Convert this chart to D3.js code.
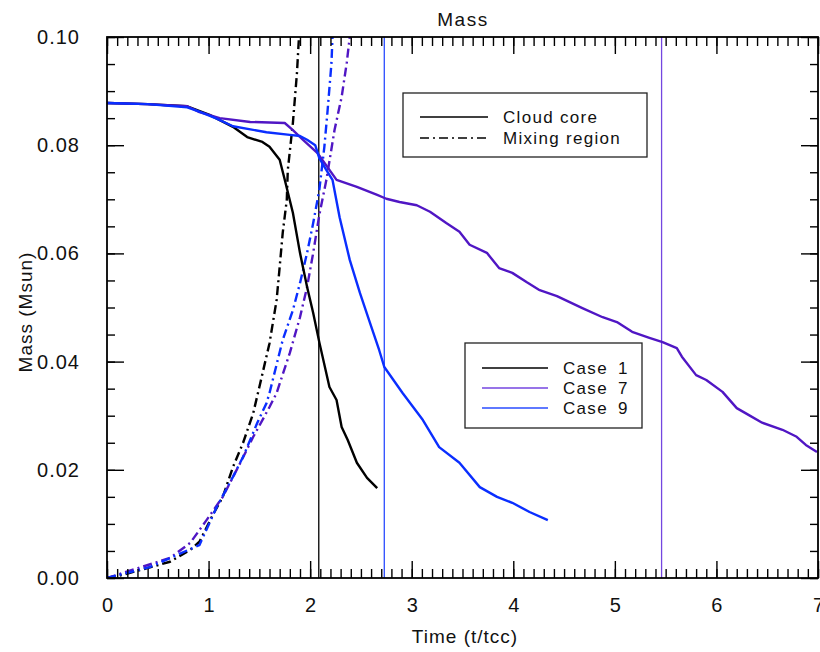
<!DOCTYPE html>
<html>
<head>
<meta charset="utf-8">
<script src="https://cdn.jsdelivr.net/npm/d3@7"></script>
<style>
body { margin: 0; background: #fff; }
text { font-family: "Liberation Sans", Arial, sans-serif; fill: #111; }
</style>
</head>
<body>
<div id="chart"></div>
<script>
/* Data: time (t/tcc) and mass (Msun) */
var case1Time = [0, 0.40, 0.79, 1.01, 1.24, 1.38, 1.53, 1.60, 1.70, 1.75, 1.83, 1.90, 1.97, 2.03, 2.09, 2.19, 2.26, 2.31, 2.37, 2.46, 2.56, 2.66];
var case1Core = [0.0878, 0.0876, 0.0872, 0.0856, 0.0834, 0.0815, 0.0806, 0.0797, 0.0773, 0.0736, 0.0675, 0.0601, 0.0538, 0.0490, 0.0436, 0.0353, 0.0329, 0.0279, 0.0255, 0.0213, 0.0185, 0.0166];

var case7Time = [0, 0.40, 0.79, 0.91, 1.11, 1.41, 1.75, 1.83, 1.93, 2.07, 2.26, 2.46, 2.66, 2.75, 2.88, 3.05, 3.18, 3.34, 3.47, 3.57, 3.74, 3.86, 3.99, 4.13, 4.26, 4.43, 4.68, 4.88, 5.02, 5.17, 5.34, 5.47, 5.61, 5.66, 5.80, 5.90, 6.06, 6.20, 6.32, 6.45, 6.65, 6.79, 6.88, 6.99];
var case7Core = [0.0878, 0.0876, 0.0872, 0.0861, 0.0850, 0.0843, 0.0841, 0.0828, 0.0810, 0.0786, 0.0736, 0.0723, 0.0708, 0.0701, 0.0695, 0.0689, 0.0677, 0.0656, 0.0640, 0.0616, 0.0601, 0.0573, 0.0564, 0.0547, 0.0532, 0.0521, 0.0499, 0.0482, 0.0473, 0.0455, 0.0444, 0.0436, 0.0425, 0.0409, 0.0375, 0.0366, 0.0344, 0.0314, 0.0301, 0.0287, 0.0274, 0.0261, 0.0246, 0.0233];

var case9Time = [0, 0.40, 0.79, 0.91, 1.08, 1.24, 1.57, 1.80, 1.90, 1.97, 2.05, 2.09, 2.16, 2.22, 2.29, 2.39, 2.49, 2.59, 2.68, 2.73, 2.91, 3.11, 3.27, 3.47, 3.67, 3.84, 3.99, 4.16, 4.34];
var case9Core = [0.0878, 0.0876, 0.0870, 0.0862, 0.0849, 0.0835, 0.0824, 0.0819, 0.0817, 0.0810, 0.0800, 0.0776, 0.0754, 0.0736, 0.0667, 0.0588, 0.0527, 0.0471, 0.0421, 0.0390, 0.0342, 0.0292, 0.0242, 0.0213, 0.0168, 0.0150, 0.0139, 0.0122, 0.0107];

var case1MixTime = [0, 0.16, 0.62, 0.82, 0.91, 1.04, 1.14, 1.24, 1.34, 1.44, 1.50, 1.60, 1.67, 1.70, 1.73, 1.77, 1.78, 1.83, 1.87, 1.89, 1.90];
var case1Mix = [0, 0.0006, 0.0030, 0.0052, 0.0067, 0.0116, 0.0150, 0.0205, 0.0250, 0.0305, 0.0353, 0.0434, 0.0514, 0.0575, 0.0638, 0.0699, 0.0754, 0.0841, 0.0933, 0.1000, 0.1030];

var case7MixTime = [0, 0.62, 0.82, 0.98, 1.14, 1.31, 1.44, 1.60, 1.67, 1.80, 1.90, 1.97, 2.03, 2.09, 2.16, 2.24, 2.31, 2.36, 2.39, 2.40];
var case7Mix = [0, 0.0037, 0.0065, 0.0107, 0.0150, 0.0212, 0.0261, 0.0316, 0.0342, 0.0416, 0.0482, 0.0538, 0.0601, 0.0671, 0.0736, 0.0828, 0.0889, 0.0952, 0.1000, 0.1030];

var case9MixTime = [0, 0.42, 0.91, 1.08, 1.24, 1.34, 1.48, 1.57, 1.60, 1.73, 1.83, 1.90, 1.97, 2.03, 2.09, 2.14, 2.17, 2.21, 2.22, 2.23];
var case9Mix = [0, 0.0020, 0.0061, 0.0131, 0.0187, 0.0224, 0.0287, 0.0323, 0.0342, 0.0440, 0.0495, 0.0545, 0.0601, 0.0656, 0.0717, 0.0797, 0.0860, 0.0952, 0.1000, 0.1030];

/* End-of-run markers: case 1, case 9, case 7 */
var markTime = [2.085, 2.73, 5.46];
var markCase = [0, 2, 1];

var caseNames = ["Case 1", "Case 7", "Case 9"];
var styleNames = ["Cloud core", "Mixing region"];
var xTicks = [0, 1, 2, 3, 4, 5, 6, 7];
var yTicks = [0, 0.02, 0.04, 0.06, 0.08, 0.10];

var curveColor = ["#000000", "#5016c4", "#0a2eff"];
var thinColor = ["#000000", "#7446e0", "#2a4cff"];

var width = 820;
var height = 652;
var pLeft = 107, pRight = 818, pTop = 37, pBottom = 578;

/* Scale */
var xScale = d3.scaleLinear().domain([0, 7]).range([pLeft, pRight]);
var yScale = d3.scaleLinear().domain([0, 0.10]).range([pBottom, pTop]);

var svg = d3.select("#chart").append("svg")
	.attr("width", width)
	.attr("height", height);

svg.append("defs").append("clipPath")
	.attr("id", "plot")
	.append("rect")
	.attr("x", pLeft).attr("y", pTop)
	.attr("width", pRight - pLeft).attr("height", pBottom - pTop);

function pairs(t, m) {
	return t.map((d, i) => ({t: d, m: m[i]}));
}

var cores = [pairs(case1Time, case1Core), pairs(case7Time, case7Core), pairs(case9Time, case9Core)];
var mixes = [pairs(case1MixTime, case1Mix), pairs(case7MixTime, case7Mix), pairs(case9MixTime, case9Mix)];

var line = d3.line()
	.x(d => xScale(d.t))
	.y(d => yScale(d.m));

var plot = svg.append("g").attr("clip-path", "url(#plot)");

/* vertical markers */
plot.selectAll(".mark")
	.data(markTime).enter()
	.append("line")
	.attr("x1", d => xScale(d)).attr("x2", d => xScale(d))
	.attr("y1", yScale(0)).attr("y2", yScale(0.10))
	.style("stroke", (d, i) => thinColor[markCase[i]])
	.style("stroke-width", 1.3);

plot.selectAll(".mix")
	.data(mixes).enter()
	.append("path")
	.attr("d", line)
	.style("fill", "none")
	.style("stroke", (d, i) => curveColor[i])
	.style("stroke-width", 2.4)
	.style("stroke-dasharray", "9,4,2,4");

plot.selectAll(".core")
	.data(cores).enter()
	.append("path")
	.attr("d", line)
	.style("fill", "none")
	.style("stroke", (d, i) => curveColor[i])
	.style("stroke-width", 2.4)
	.style("stroke-linejoin", "round");

/* Axes */
var xMinor = d3.range(0, 7.001, 0.1);
var yMinor = d3.range(0, 0.1001, 0.005);

function addAxis(axis, tx, ty, labels) {
	var g = svg.append("g")
		.attr("transform", `translate(${tx}, ${ty})`)
		.call(axis);
	g.select(".domain").remove();
	g.selectAll(".tick line").style("stroke", "#000").style("stroke-width", 1.4);
	if (!labels) g.selectAll(".tick text").remove();
	return g;
}

var fmtY = d3.format(".2f");

addAxis(d3.axisBottom(xScale).tickValues(xMinor).tickSize(-9).tickFormat(""), 0, pBottom, false);
addAxis(d3.axisTop(xScale).tickValues(xMinor).tickSize(-9).tickFormat(""), 0, pTop, false);
addAxis(d3.axisLeft(yScale).tickValues(yMinor).tickSize(-8).tickFormat(""), pLeft, 0, false);
addAxis(d3.axisRight(yScale).tickValues(yMinor).tickSize(-8).tickFormat(""), pRight, 0, false);

var gx = addAxis(d3.axisBottom(xScale).tickValues(xTicks).tickSize(-17).tickPadding(30).tickFormat(d3.format("d")), 0, pBottom, true);
addAxis(d3.axisTop(xScale).tickValues(xTicks).tickSize(-17).tickFormat(""), 0, pTop, false);
var gy = addAxis(d3.axisLeft(yScale).tickValues(yTicks).tickSize(-17).tickPadding(27).tickFormat(fmtY), pLeft, 0, true);
addAxis(d3.axisRight(yScale).tickValues(yTicks).tickSize(-17).tickFormat(""), pRight, 0, false);

gx.selectAll(".tick text").style("font-size", "20px").attr("dy", "0.2em");
gy.selectAll(".tick text").style("font-size", "20px").style("letter-spacing", "1px");

svg.append("rect")
	.attr("x", pLeft).attr("y", pTop)
	.attr("width", pRight - pLeft).attr("height", pBottom - pTop)
	.style("fill", "none").style("stroke", "#000").style("stroke-width", 1.8);

/* Titles */
svg.append("text")
	.attr("x", 463).attr("y", 26)
	.attr("text-anchor", "middle")
	.style("font-size", "19px").style("letter-spacing", "1.5px")
	.text("Mass");

svg.append("text")
	.attr("x", 465).attr("y", 643)
	.attr("text-anchor", "middle")
	.style("font-size", "19px").style("letter-spacing", "1px")
	.text("Time (t/tcc)");

svg.append("text")
	.attr("transform", "translate(32, 312) rotate(-90)")
	.attr("text-anchor", "middle")
	.style("font-size", "19px").style("letter-spacing", "1px")
	.text("Mass (Msun)");

/* Legend: line styles */
var leg1 = svg.append("g");
leg1.append("rect")
	.attr("x", 403).attr("y", 93).attr("width", 244).attr("height", 64)
	.style("fill", "#fff").style("stroke", "#222").style("stroke-width", 1.3);
leg1.selectAll(".ll")
	.data(styleNames).enter()
	.append("line")
	.attr("x1", 420).attr("x2", 488)
	.attr("y1", (d, i) => 117 + i * 21).attr("y2", (d, i) => 117 + i * 21)
	.style("stroke", "#000").style("stroke-width", 1.3)
	.style("stroke-dasharray", (d, i) => i ? "9,4,2,4" : null);
leg1.selectAll(".lt")
	.data(styleNames).enter()
	.append("text")
	.attr("x", 503).attr("y", (d, i) => 123 + i * 21)
	.style("font-size", "17px").style("letter-spacing", "1.3px")
	.text(d => d);

/* Legend: cases */
var leg2 = svg.append("g");
leg2.append("rect")
	.attr("x", 465).attr("y", 343).attr("width", 177).attr("height", 85)
	.style("fill", "#fff").style("stroke", "#222").style("stroke-width", 1.3);
leg2.selectAll(".cl")
	.data(caseNames).enter()
	.append("line")
	.attr("x1", 482).attr("x2", 548)
	.attr("y1", (d, i) => 368 + i * 20).attr("y2", (d, i) => 368 + i * 20)
	.style("stroke", (d, i) => thinColor[i]).style("stroke-width", 1.5);
leg2.selectAll(".ct")
	.data(caseNames).enter()
	.append("text")
	.attr("x", 563).attr("y", (d, i) => 374 + i * 20)
	.style("font-size", "17px").style("letter-spacing", "1.3px")
	.style("word-spacing", "4px")
	.text(d => d);
</script>
</body>
</html>
